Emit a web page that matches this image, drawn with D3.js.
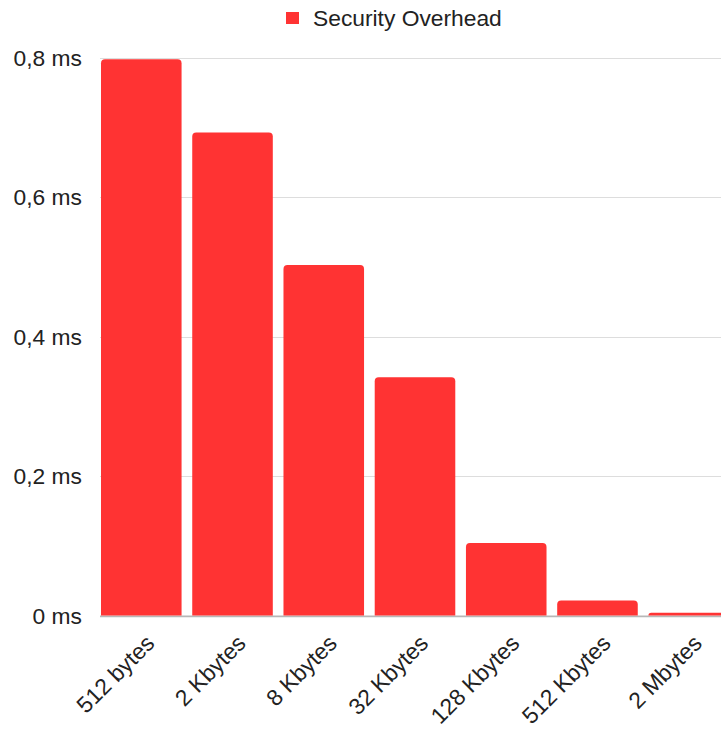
<!DOCTYPE html>
<html>
<head>
<meta charset="utf-8">
<script src="https://cdn.jsdelivr.net/npm/d3@7"></script>
<style>
  html, body { margin: 0; padding: 0; background: #fff; }
  svg { display: block; font-family: "Liberation Sans", Arial, sans-serif; }
</style>
</head>
<body>
<svg id="chart" width="721" height="729"></svg>
<script>
const categories = ["512 bytes", "2 Kbytes", "8 Kbytes", "32 Kbytes", "128 Kbytes", "512 Kbytes", "2 Mbytes"];
const overhead = [0.798, 0.693, 0.503, 0.342, 0.104, 0.0215, 0.004];
const yTicks = [0, 0.2, 0.4, 0.6, 0.8];
const seriesName = "Security Overhead";

const W = 721, H = 729;
const svg = d3.select("#chart");
const barColor = "#ff3333";
const textColor = "#222222";
const fontSize = 22.8;

const x = d3.scaleBand().domain(categories).range([100, 730]).paddingInner(0.117).paddingOuter(0.011);
const y = d3.scaleLinear().domain([0, 0.8]).range([615.6, 57.8]);

const fmt = v => (v === 0 ? "0" : d3.format(".1f")(v).replace(".", ",")) + " ms";

// gridlines
svg.append("g").selectAll("line").data(yTicks.filter(t => t > 0)).join("line")
  .attr("x1", 100).attr("x2", W)
  .attr("y1", d => Math.round(y(d)) + 0.5).attr("y2", d => Math.round(y(d)) + 0.5)
  .attr("stroke", "#dddddd").attr("stroke-width", 1.2);

// baseline
svg.append("line").attr("x1", 100).attr("x2", W)
  .attr("y1", y(0) + 0.8).attr("y2", y(0) + 0.8)
  .attr("stroke", "#b7b7b7").attr("stroke-width", 1.6);

// y labels
svg.append("g").selectAll("text").data(yTicks).join("text")
  .attr("x", 82).attr("y", d => y(d)).attr("dy", "0.35em")
  .attr("text-anchor", "end").attr("font-size", fontSize).attr("fill", textColor)
  .text(fmt);

// bars with rounded top corners
function barPath(x0, w, yTop, yBot, r) {
  const rr = Math.min(r, (yBot - yTop), w / 2);
  return `M${x0},${yBot}V${yTop + rr}Q${x0},${yTop} ${x0 + rr},${yTop}H${x0 + w - rr}Q${x0 + w},${yTop} ${x0 + w},${yTop + rr}V${yBot}Z`;
}
svg.append("g").selectAll("path").data(categories).join("path")
  .attr("d", (c, i) => barPath(x(c), x.bandwidth(), y(overhead[i]), y(0), 4))
  .attr("fill", barColor);

// x labels
svg.append("g").selectAll("text").data(categories).join("text")
  .attr("transform", c => `translate(${x(c) + x.bandwidth() / 2 + 9},639) rotate(-45)`)
  .attr("dy", "0.35em")
  .attr("text-anchor", "end").attr("font-size", fontSize).attr("fill", textColor)
  .text(c => c);

// legend
const leg = svg.append("g");
leg.append("rect").attr("x", 286).attr("y", 12).attr("width", 13).attr("height", 12).attr("fill", barColor);
leg.append("text").attr("x", 313).attr("y", 26).attr("font-size", fontSize).attr("fill", textColor).text(seriesName);
</script>
</body>
</html>
